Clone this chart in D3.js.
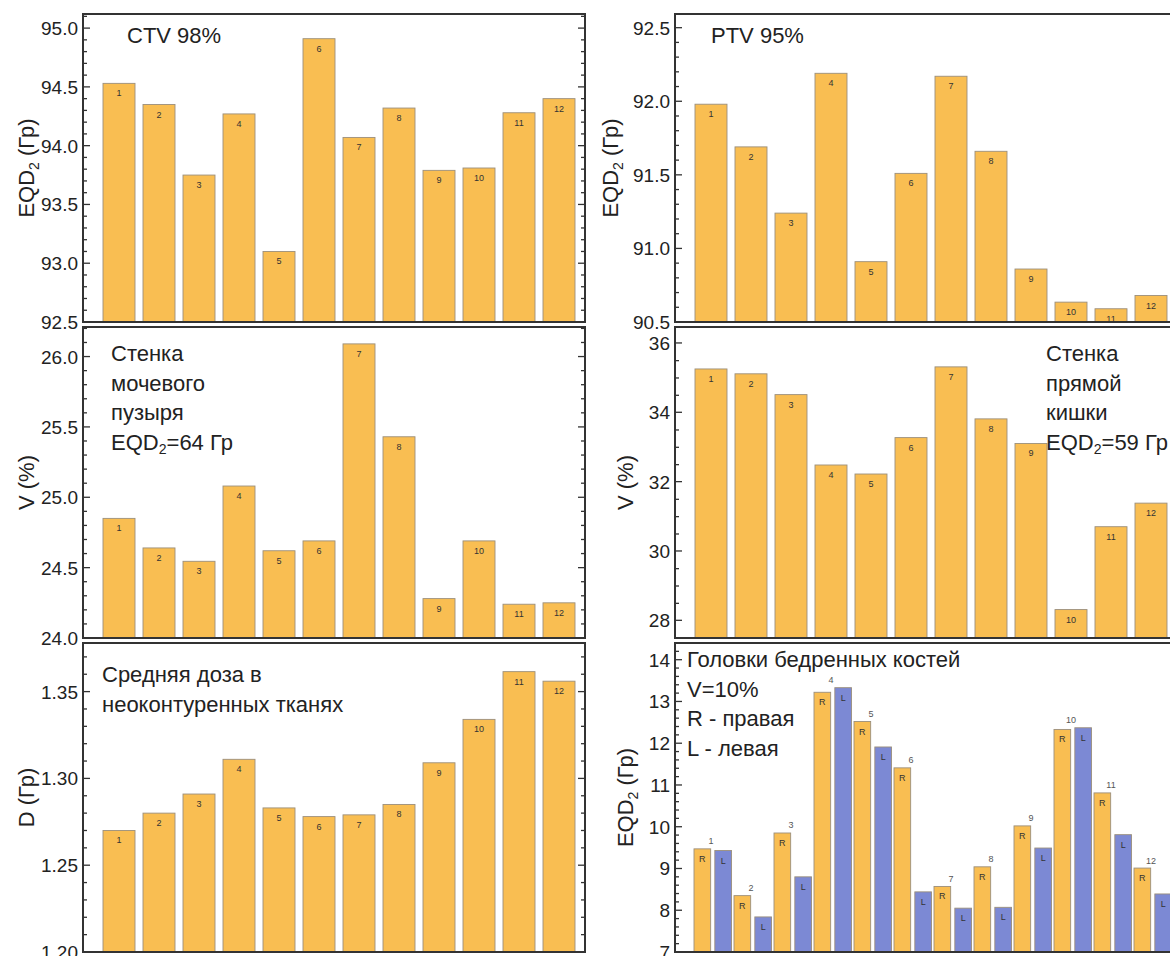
<!DOCTYPE html>
<html lang="ru">
  <head>
    <meta charset="utf-8" />
    <title>D3: six bar panels</title>
    <script src="https://d3js.org/d3.v7.min.js"></script>
    <style type="text/css">
      body { margin: 0; background: #fff; }
      svg text { font-family: "Liberation Sans", Arial, sans-serif; }
    </style>
  </head>
  <body>
    <script type="text/javascript">
      const w = 1170;
      const h = 956;

      // data
      const categories = ['1', '2', '3', '4', '5', '6', '7', '8', '9', '10', '11', '12'];
      const ctv98 = [94.53, 94.35, 93.75, 94.27, 93.10, 94.91, 94.07, 94.32, 93.79, 93.81, 94.28, 94.40];
      const ptv95 = [91.98, 91.69, 91.24, 92.19, 90.91, 91.51, 92.17, 91.66, 90.86, 90.635, 90.59, 90.68];
      const bladderV = [24.85, 24.64, 24.545, 25.08, 24.62, 24.69, 26.09, 25.43, 24.28, 24.69, 24.24, 24.25];
      const rectumV = [35.25, 35.11, 34.51, 32.48, 32.22, 33.27, 35.31, 33.81, 33.10, 28.31, 30.70, 31.38];
      const meanDose = [1.270, 1.280, 1.291, 1.311, 1.283, 1.278, 1.279, 1.285, 1.309, 1.334, 1.3615, 1.356];
      const femurRight = [9.47, 8.35, 9.85, 13.22, 12.52, 11.41, 8.57, 9.04, 10.02, 12.33, 10.81, 9.01];
      const femurLeft = [9.43, 7.84, 8.80, 13.33, 11.91, 8.44, 8.05, 8.07, 9.49, 12.37, 9.81, 8.39];
      const sides = ['R', 'L'];

      // tick labels
      const ctvTicks = [92.5, 93.0, 93.5, 94.0, 94.5, 95.0];
      const ptvTicks = [90.5, 91.0, 91.5, 92.0, 92.5];
      const bladderTicks = [24.0, 24.5, 25.0, 25.5, 26.0];
      const rectumTicks = [28, 30, 32, 34, 36];
      const doseTicks = [1.20, 1.25, 1.30, 1.35];
      const femurTicks = [7, 8, 9, 10, 11, 12, 13, 14];

      const orange = '#F9BE52';
      const blue = '#7C89D4';

      // layout of the frames
      const cols = [83, 675];
      const frameW = 502;
      const rows = [[14, 322], [327, 638], [643, 952]];

      const panels = [
        { col: 0, row: 0, values: ctv98, domain: [92.5, 95.12], ticks: ctvTicks, minor: 0.1, fmt: '.1f',
          title: ['EQD', '2', ' (Гр)'], titleX: 26, note: [['CTV 98%']], noteX: 127, noteY: 43 },
        { col: 1, row: 0, values: ptv95, domain: [90.5, 92.593], ticks: ptvTicks, minor: 0.1, fmt: '.1f',
          title: ['EQD', '2', ' (Гр)'], titleX: 610, note: [['PTV 95%']], noteX: 711, noteY: 43 },
        { col: 0, row: 1, values: bladderV, domain: [24.0, 26.21], ticks: bladderTicks, minor: 0.1, fmt: '.1f',
          title: ['V (%)'], titleX: 26,
          note: [['Стенка'], ['мочевого'], ['пузыря'], ['EQD', '2', '=64 Гр']], noteX: 111, noteY: 361 },
        { col: 1, row: 1, values: rectumV, domain: [27.49, 36.46], ticks: rectumTicks, minor: 0.5, fmt: 'd',
          title: ['V (%)'], titleX: 625,
          note: [['Стенка'], ['прямой'], ['кишки'], ['EQD', '2', '=59 Гр']], noteX: 1046, noteY: 361 },
        { col: 0, row: 2, values: meanDose, domain: [1.20, 1.378], ticks: doseTicks, minor: 0.01, fmt: '.2f',
          title: ['D (Гр)'], titleX: 26,
          note: [['Средняя доза в'], ['неоконтуренных тканях']], noteX: 102, noteY: 682 },
        { col: 1, row: 2, grouped: true, domain: [7, 14.4], ticks: femurTicks, minor: 0.2, fmt: 'd',
          title: ['EQD', '2', ' (Гр)'], titleX: 625,
          note: [['Головки бедренных костей'], ['V=10%'], ['R - правая'], ['L - левая']], noteX: 687, noteY: 667 },
      ];

      const svg = d3.select('body').append('svg').attr('width', w).attr('height', h);

      function writeRich(sel, parts, size) {
        parts.forEach((p, k) => {
          const t = sel.append('tspan').text(p);
          if (k === 1) t.attr('font-size', size * 0.64).attr('dy', size * 0.22);
          if (k === 2) t.attr('dy', -size * 0.22);
        });
      }

      panels.forEach((p, pi) => {
        const x0 = cols[p.col];
        const [top, bottom] = rows[p.row];
        const g = svg.append('g');

        const x = d3.scaleBand().domain(categories).range([x0 + 16, x0 + 496]).paddingInner(0.2).paddingOuter(0.1);
        const y = d3.scaleLinear().domain(p.domain).range([bottom, top]);

        const clipId = 'clip' + pi;
        svg.append('clipPath').attr('id', clipId)
          .append('rect').attr('x', x0).attr('y', top).attr('width', frameW).attr('height', bottom - top);

        const plot = g.append('g').attr('clip-path', `url(#${clipId})`);

        if (!p.grouped) {
          plot.selectAll('rect.bar')
            .data(p.values)
            .enter()
            .append('rect')
            .attr('class', 'bar')
            .attr('x', (d, i) => x(categories[i]))
            .attr('y', (d) => y(d))
            .attr('width', x.bandwidth())
            .attr('height', (d) => bottom - y(d) + 2)
            .attr('fill', orange)
            .attr('stroke', '#9b8f7c')
            .attr('stroke-width', 0.9);

          plot.selectAll('text.lbl')
            .data(p.values)
            .enter()
            .append('text')
            .attr('class', 'lbl')
            .text((d, i) => categories[i])
            .attr('text-anchor', 'middle')
            .attr('x', (d, i) => x(categories[i]) + x.bandwidth() / 2)
            .attr('y', (d) => y(d) + 13)
            .attr('font-size', '9px')
            .attr('fill', '#333');
        } else {
          const x1 = d3.scaleBand().domain(sides).range([-1, 36.5]).paddingInner(0.2);
          const rowsData = categories.map((c, i) => ({ cat: c, R: femurRight[i], L: femurLeft[i] }));
          const grp = plot.selectAll('g.grp')
            .data(rowsData)
            .enter()
            .append('g')
            .attr('class', 'grp')
            .attr('transform', (d) => `translate(${x(d.cat)},0)`);

          grp.selectAll('rect')
            .data((d) => sides.map((s) => ({ side: s, v: d[s] })))
            .enter()
            .append('rect')
            .attr('x', (d) => x1(d.side))
            .attr('y', (d) => y(d.v))
            .attr('width', x1.bandwidth())
            .attr('height', (d) => bottom - y(d.v) + 2)
            .attr('fill', (d) => (d.side === 'R' ? orange : blue))
            .attr('stroke', '#9b8f7c')
            .attr('stroke-width', 0.9);

          grp.selectAll('text.side')
            .data((d) => sides.map((s) => ({ side: s, v: d[s] })))
            .enter()
            .append('text')
            .attr('class', 'side')
            .text((d) => d.side)
            .attr('text-anchor', 'middle')
            .attr('x', (d) => x1(d.side) + x1.bandwidth() / 2)
            .attr('y', (d) => y(d.v) + 13)
            .attr('font-size', '9px')
            .attr('fill', '#333');

          grp.append('text')
            .text((d) => d.cat)
            .attr('text-anchor', 'middle')
            .attr('x', 16)
            .attr('y', (d) => y(Math.max(d.R, d.L)) - 4.5)
            .attr('font-size', '9px')
            .attr('fill', '#555');
        }

        // frame
        g.append('rect')
          .attr('x', x0).attr('y', top).attr('width', frameW).attr('height', bottom - top)
          .attr('fill', 'none').attr('stroke', '#333').attr('stroke-width', 2);

        // ticks on both sides
        const minorTicks = d3.range(p.domain[0], p.domain[1] + 1e-9, p.minor)
          .filter((v) => !p.ticks.some((t) => Math.abs(t - v) < p.minor / 10));
        const ticks = p.ticks.map((v) => ({ v, len: 7 })).concat(minorTicks.map((v) => ({ v, len: 4 })));
        [x0, x0 + frameW].forEach((edge, side) => {
          g.selectAll(null)
            .data(ticks)
            .enter()
            .append('line')
            .attr('x1', edge)
            .attr('x2', (d) => (side === 0 ? edge + d.len : edge - d.len))
            .attr('y1', (d) => y(d.v))
            .attr('y2', (d) => y(d.v))
            .attr('stroke', '#333')
            .attr('stroke-width', 1.3);
        });

        g.selectAll('text.tick')
          .data(p.ticks)
          .enter()
          .append('text')
          .attr('class', 'tick')
          .text((d) => d3.format(p.fmt)(d))
          .attr('text-anchor', 'end')
          .attr('x', x0 - 5)
          .attr('y', (d) => y(d) + 7)
          .attr('font-size', '19px')
          .attr('fill', '#222');

        // axis title
        const title = g.append('text')
          .attr('transform', `translate(${p.titleX},${(top + bottom) / 2}) rotate(-90)`)
          .attr('text-anchor', 'middle')
          .attr('y', 8)
          .attr('font-size', '22px')
          .attr('fill', '#222');
        writeRich(title, p.title, 22);

        // note in the corner
        p.note.forEach((line, k) => {
          const t = g.append('text')
            .attr('x', p.noteX)
            .attr('y', p.noteY + k * 29.5)
            .attr('font-size', '22px')
            .attr('fill', '#222');
          writeRich(t, line, 22);
        });
      });
    </script>
  </body>
</html>
